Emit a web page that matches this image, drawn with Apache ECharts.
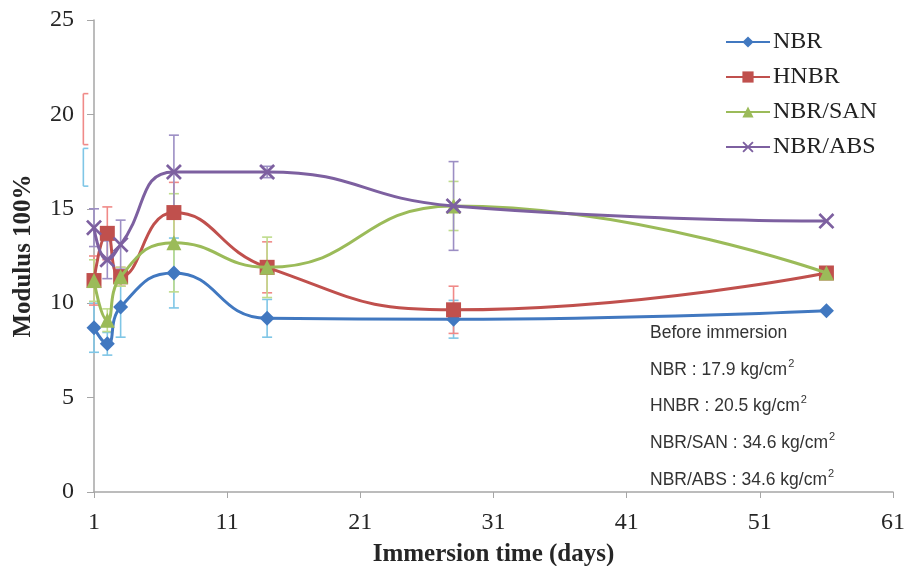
<!DOCTYPE html>
<html>
<head>
<meta charset="utf-8">
<script src="https://cdn.jsdelivr.net/npm/echarts@6/dist/echarts.min.js"></script>
<style>html,body{margin:0;padding:0;background:#fff}#c{width:911px;height:566px}</style>
</head>
<body>
<div id="c"></div>
<script>
var days = [1, 2, 3, 7, 14, 28, 56];
var nbr  = [8.7, 7.85, 9.8, 11.6, 9.2, 9.15, 9.6];
var hnbr = [11.2, 13.7, 11.4, 14.8, 11.9, 9.65, 11.6];
var san  = [11.2, 9.1, 11.4, 13.2, 11.9, 15.15, 11.6];
var abs  = [14.0, 12.3, 13.1, 16.95, 16.95, 15.15, 14.35];
var nbrErr  = [1.3, 0.6, 1.6, 1.85, 1.0, 1.0, 0];
var hnbrErr = [1.3, 1.4, 0.5, 1.6, 1.35, 1.25, 0];
var sanErr  = [1.1, 0.6, 0.5, 2.6, 1.6, 1.3, 0];
var absErr  = [1.0, 1.0, 1.3, 1.95, 0.3, 2.35, 0];
// error brackets drawn left of the axis (before immersion)
var beforeDay = [0.2, 0.2];
var beforeMid = [19.75, 17.2];
var beforeErr = [1.35, 1.0];
var seriesNames = ['NBR', 'HNBR', 'NBR/SAN', 'NBR/ABS'];
var yTicks = [0, 25, 5];
var xTicks = [1, 61, 10];
var noteLines = [
  ['Before immersion', ' '],
  ['NBR : 17.9 kg/cm', '2'],
  ['HNBR : 20.5 kg/cm', '2'],
  ['NBR/SAN : 34.6 kg/cm', '2'],
  ['NBR/ABS : 34.6 kg/cm', '2']
];

var colors = ['#4178C0', '#C0504D', '#9BBB59', '#7D60A0'];
var errColors = ['#7FC6E6', '#F08A88', '#BFDC8C', '#9C8EC4'];
var xPath = 'path://M0,1.2 L1.2,0 L5,3.8 L8.8,0 L10,1.2 L6.2,5 L10,8.8 L8.8,10 L5,6.2 L1.2,10 L0,8.8 L3.8,5 Z';
var symbols = ['diamond', 'rect', 'triangle', xPath];
var symSizes = [15, 15, 15, 16];
var vals = [nbr, hnbr, san, abs];
var errs = [nbrErr, hnbrErr, sanErr, absErr];

function pairs(xs, ys) { return xs.map(function (x, i) { return [x, ys[i]]; }); }
function triples(xs, ys, es) { return xs.map(function (x, i) { return [x, ys[i], es[i]]; }); }

function errRender(color, rightOnly) {
  return function (params, api) {
    var x = api.value(0), y = api.value(1), e = api.value(2);
    if (!e) return null;
    var t = api.coord([x, y + e]), b = api.coord([x, y - e]);
    var wl = rightOnly ? 0 : 5, wr = 5;
    var st = { stroke: color, lineWidth: 1.6 };
    return { type: 'group', children: [
      { type: 'line', shape: { x1: t[0], y1: t[1], x2: b[0], y2: b[1] }, style: st },
      { type: 'line', shape: { x1: t[0] - wl, y1: t[1], x2: t[0] + wr, y2: t[1] }, style: st },
      { type: 'line', shape: { x1: b[0] - wl, y1: b[1], x2: b[0] + wr, y2: b[1] }, style: st }
    ]};
  };
}

var series = [];
for (var i = 0; i < 4; i++) {
  series.push({
    type: 'custom', name: seriesNames[i] + ' err', renderItem: errRender(errColors[i], false),
    data: triples(days, vals[i], errs[i]), clip: false, z: 1, silent: true
  });
}
series.push({
  type: 'custom', name: 'before', renderItem: function (params, api) {
    var c = [errColors[1], errColors[0]][params.dataIndex];
    return errRender(c, true)(params, api);
  },
  data: triples(beforeDay, beforeMid, beforeErr), clip: false, z: 1, silent: true
});
for (var j = 0; j < 4; j++) {
  series.push({
    type: 'line', name: seriesNames[j], data: pairs(days, vals[j]), smooth: 0.5,
    symbol: symbols[j], symbolSize: symSizes[j], showAllSymbol: true,
    lineStyle: { color: colors[j], width: 3 },
    itemStyle: { color: colors[j], borderWidth: 0 },
    z: 3 + j
  });
}

var noteCenters = [333, 370, 406.5, 443, 480];
var graphics = noteLines.map(function (l, k) {
  return {
    type: 'text', left: 650, top: noteCenters[k] - 12,
    style: {
      text: '{a|' + l[0] + '}{s|' + l[1] + '}',
      rich: {
        a: { fontFamily: 'Liberation Sans', fontSize: 17.5, fill: '#333', lineHeight: 24 },
        s: { fontFamily: 'Liberation Sans', fontSize: 11, fill: '#333', verticalAlign: 'top', lineHeight: 11, padding: [0, 0, 0, 1] }
      }
    }
  };
});

var chart = echarts.init(document.getElementById('c'));
chart.setOption({
  animation: false,
  color: colors,
  grid: { left: 94, right: 18, top: 20, bottom: 74, containLabel: false, outerBoundsMode: 'none' },
  legend: {
    data: seriesNames, orient: 'vertical', left: 720, top: 25, itemGap: 11,
    itemWidth: 44, itemHeight: 14,
    textStyle: { fontFamily: 'Liberation Serif', fontSize: 24, color: '#222', padding: [0, 0, 0, -2] }
  },
  xAxis: {
    type: 'value', min: xTicks[0], max: xTicks[1], interval: xTicks[2],
    name: 'Immersion time (days)', nameLocation: 'middle', nameGap: 50,
    nameTextStyle: { fontFamily: 'Liberation Serif', fontWeight: 'bold', fontSize: 25, color: '#262626' },
    axisLine: { lineStyle: { color: '#A6A6A6', width: 1.5 } },
    axisTick: { show: true, length: 6, lineStyle: { color: '#A6A6A6' } },
    axisLabel: { fontFamily: 'Liberation Serif', fontSize: 24, color: '#262626', margin: 19 },
    splitLine: { show: false }
  },
  yAxis: {
    type: 'value', min: yTicks[0], max: yTicks[1], interval: yTicks[2],
    name: 'Modulus 100%', nameLocation: 'middle', nameGap: 58, nameRotate: 90,
    nameTextStyle: { fontFamily: 'Liberation Serif', fontWeight: 'bold', fontSize: 25, color: '#262626' },
    axisLine: { show: true, lineStyle: { color: '#A6A6A6', width: 1.5 } },
    axisTick: { show: true, length: 7, lineStyle: { color: '#A6A6A6' } },
    axisLabel: { fontFamily: 'Liberation Serif', fontSize: 24, color: '#262626', margin: 20 },
    splitLine: { show: false }
  },
  graphic: graphics,
  series: series
});
</script>
</body>
</html>
